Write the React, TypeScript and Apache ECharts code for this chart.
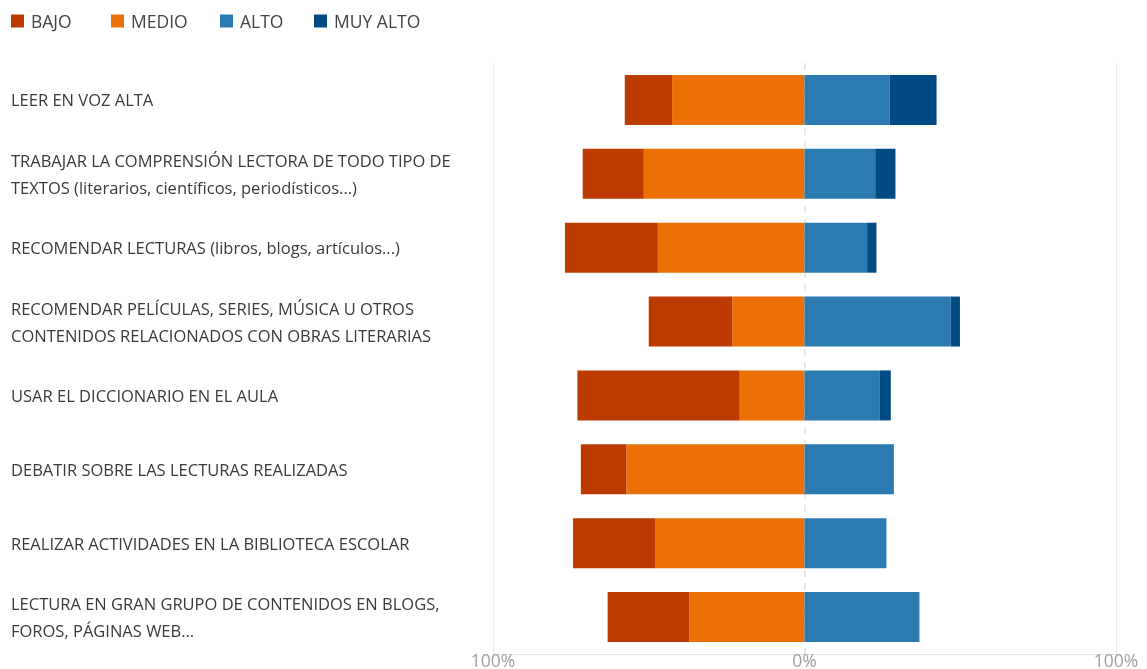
import React, { useEffect, useRef } from "react";
import * as echarts from "echarts";

const categories = [
  "LEER EN VOZ ALTA",
  "TRABAJAR LA COMPRENSIÓN LECTORA DE TODO TIPO DE\nTEXTOS (literarios, científicos, periodísticos...)",
  "RECOMENDAR LECTURAS (libros, blogs, artículos...)",
  "RECOMENDAR PELÍCULAS, SERIES, MÚSICA U OTROS\nCONTENIDOS RELACIONADOS CON OBRAS LITERARIAS",
  "USAR EL DICCIONARIO EN EL AULA",
  "DEBATIR SOBRE LAS LECTURAS REALIZADAS",
  "REALIZAR ACTIVIDADES EN LA BIBLIOTECA ESCOLAR",
  "LECTURA EN GRAN GRUPO DE CONTENIDOS EN BLOGS,\nFOROS, PÁGINAS WEB...",
];
const bajo = [15.2, 19.6, 29.8, 26.8, 52.1, 14.6, 26.3, 26.3];
const medio = [42.5, 51.6, 47.1, 23.2, 20.8, 57.2, 48.0, 36.9];
const alto = [27.3, 22.7, 20.1, 46.9, 24.2, 28.7, 26.3, 36.9];
const muyAlto = [15.1, 6.5, 3.0, 3.0, 3.5, 0, 0, 0];
const seriesNames = ["BAJO", "MEDIO", "ALTO", "MUY ALTO"];
const colors = { BAJO: "#bb3a00", MEDIO: "#eb7106", ALTO: "#2c7bb0", "MUY ALTO": "#014a84" };

export default function App() {
  const ref = useRef<HTMLDivElement>(null);
  useEffect(() => {
    const chart = echarts.init(ref.current!, null, { renderer: "svg" });
    const font = "'Open Sans', 'Noto Sans', sans-serif";
    const mk = (name: string, data: number[]) => ({
      name,
      type: "bar",
      stack: "total",
      barWidth: 50,
      data,
      itemStyle: { color: (colors as any)[name] },
    });
    const legendLefts = [6, 106, 215, 309];
    chart.setOption({
      animation: false,
      textStyle: { fontFamily: font },
      legend: seriesNames.map((n, i) => ({
        data: [n],
        left: legendLefts[i],
        top: 7,
        itemWidth: 13,
        itemHeight: 13,
        icon: "rect",
        textStyle: { fontSize: 17.5, color: "#444", fontFamily: font, padding: [0, 0, 0, 2] },
      })),
      grid: { left: 493, right: 31, top: 63, bottom: 15, containLabel: false, outerBoundsMode: "none" },
      xAxis: [
        {
          type: "value",
          min: -100,
          max: 100,
          interval: 100,
          axisLine: { show: true, lineStyle: { color: "#e3e3e3" } },
          axisTick: { show: false },
          axisLabel: {
            margin: -3,
            fontSize: 17.5,
            color: "#a0a0a0",
            fontFamily: font,
            formatter: (v: number) => Math.abs(v) + "%",
          },
          splitLine: {
            show: true,
            lineStyle: { color: ["rgba(0,0,0,0)", "#e2e2e2", "rgba(0,0,0,0)"], type: [7, 6], width: 1.5 },
          },
        },
        {
          type: "value",
          min: -100,
          max: 100,
          interval: 100,
          position: "bottom",
          axisLine: { show: false },
          axisTick: { show: false },
          axisLabel: { show: false },
          splitLine: {
            show: true,
            lineStyle: { color: ["#ececec", "rgba(0,0,0,0)", "#ececec"], width: 1 },
          },
        },
      ],
      yAxis: {
        type: "category",
        inverse: true,
        data: categories,
        axisLine: { show: false },
        axisTick: { show: false },
        axisLabel: {
          align: "left",
          margin: 482,
          fontSize: 16.5,
          lineHeight: 27,
          color: "#3a3a3a",
          fontFamily: font,
        },
      },
      series: [
        mk("MEDIO", medio.map((v) => -v)),
        mk("BAJO", bajo.map((v) => -v)),
        mk("ALTO", alto),
        mk("MUY ALTO", muyAlto),
      ],
    });
    return () => chart.dispose();
  }, []);
  return <div ref={ref} style={{ position: "fixed", left: 0, top: 0, width: 1147, height: 669 }} />;
}
